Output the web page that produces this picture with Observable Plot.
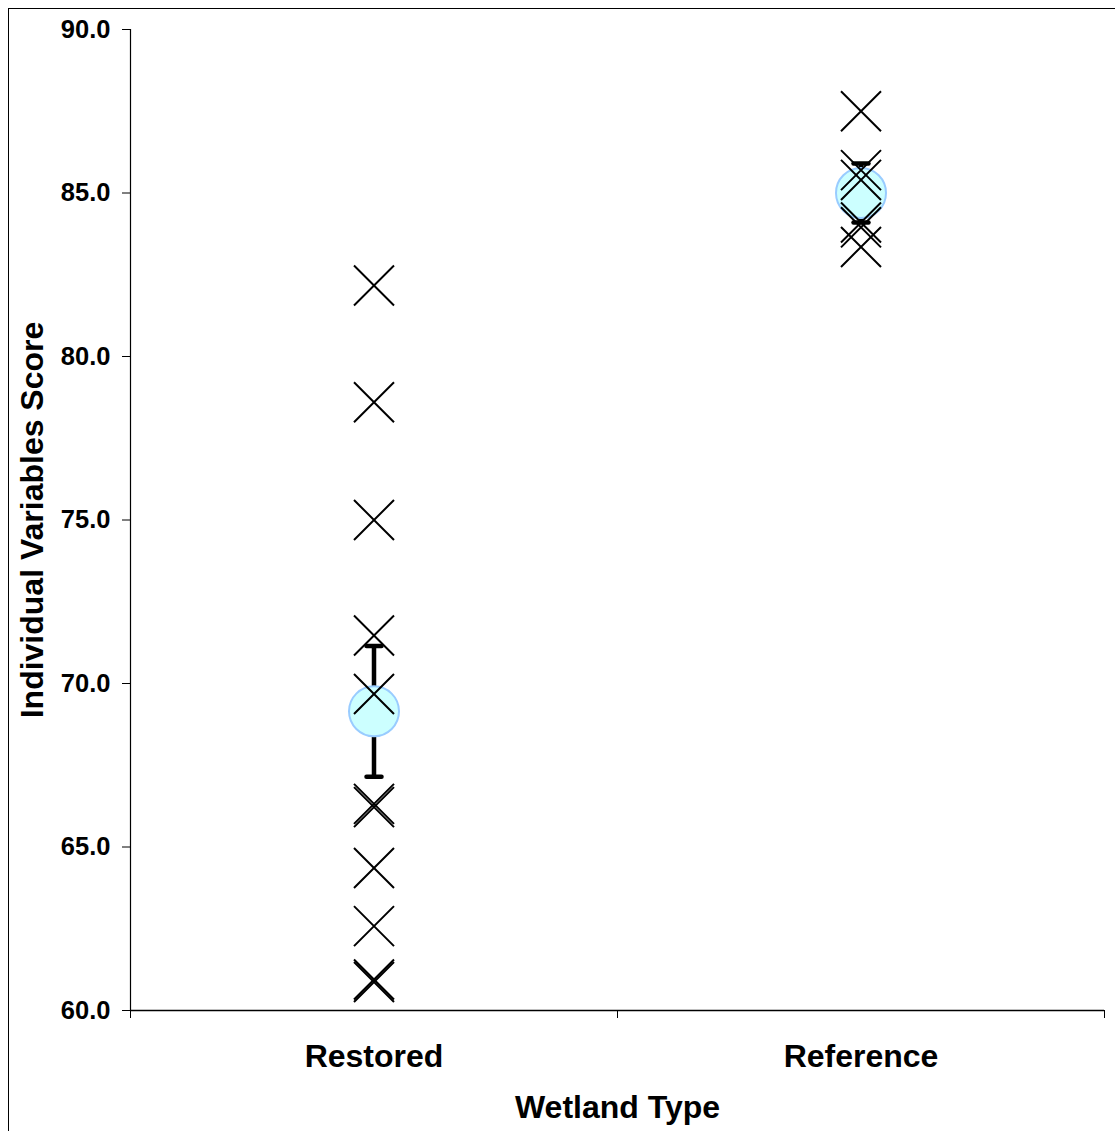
<!DOCTYPE html>
<html><head><meta charset="utf-8">
<script src="https://cdn.jsdelivr.net/npm/d3@7"></script>
<script src="https://cdn.jsdelivr.net/npm/@observablehq/plot@0.6"></script>
<style>
html,body{margin:0;padding:0;background:#fff;}
#wrap{position:relative;width:1115px;height:1131px;overflow:hidden;}
#border{position:absolute;left:8px;top:8px;width:1200px;height:1200px;border:1px solid #000;box-sizing:border-box;pointer-events:none;}
</style></head><body><div id="wrap"><div id="border"></div></div>
<script>
const categories = ["Restored", "Reference"];
const restoredScores = [82.17, 78.6, 75.0, 71.47, 69.68, 66.32, 66.22, 64.36, 62.58, 60.95, 60.87];
const referenceScores = [87.5, 85.7, 85.4, 84.1, 83.95, 83.35];
const means = [69.15, 85.0];
const errors = [2.0, 0.9];
const yTicks = [60, 65, 70, 75, 80, 85, 90];
const xTitle = "Wetland Type";
const yTitle = "Individual Variables Score";

const points = [
  ...restoredScores.map(v => ({x: 0.5, y: v})),
  ...referenceScores.map(v => ({x: 1.5, y: v}))
];
const summary = categories.map((c, i) => ({x: i + 0.5, mean: means[i], lo: means[i] - errors[i], hi: means[i] + errors[i]}));

const capSymbol = {draw(ctx, size) { const w = Math.sqrt(size / Math.PI); ctx.moveTo(-w, 0); ctx.lineTo(w, 0); }};
const font = "'Liberation Sans', Arial, Helvetica, sans-serif";

const chart = Plot.plot({
  width: 1115, height: 1131,
  marginLeft: 130, marginRight: 11, marginTop: 29, marginBottom: 121,
  style: {fontFamily: font, fontWeight: "bold", background: "transparent", color: "#000", overflow: "visible"},
  x: {domain: [0, 2]},
  y: {domain: [60, 90]},
  marks: [
    Plot.axisY({ticks: yTicks, tickFormat: d => d.toFixed(1), tickSize: 8, tickPadding: 12, fontSize: 25.5, label: null}),
    Plot.axisX({ticks: [0, 1, 2], tickFormat: () => "", tickSize: 8, label: null}),
    Plot.axisX({ticks: [0.5, 1.5], tickFormat: d => categories[Math.floor(d)], tickSize: 0, tickPadding: 34, fontSize: 32, label: null}),
    Plot.text([yTitle], {frameAnchor: "left", rotate: -90, dx: -88, lineAnchor: "bottom", textAnchor: "middle", fontSize: 32, fontWeight: "bold"}),
    Plot.text([xTitle], {frameAnchor: "bottom", dy: 107, lineAnchor: "bottom", textAnchor: "middle", fontSize: 32, fontWeight: "bold"}),
    Plot.ruleX([0], {stroke: "#000", strokeWidth: 1.2}),
    Plot.ruleY([60], {stroke: "#000", strokeWidth: 1.6}),
    Plot.ruleX(summary, {x: "x", y1: "lo", y2: "hi", stroke: "#000", strokeWidth: 4.5}),
    Plot.dot(summary, {x: "x", y: "hi", symbol: capSymbol, r: 7.5, fill: "none", stroke: "#000", strokeWidth: 4.5, strokeLinecap: "round"}),
    Plot.dot(summary, {x: "x", y: "lo", symbol: capSymbol, r: 7.5, fill: "none", stroke: "#000", strokeWidth: 4.5, strokeLinecap: "round"}),
    Plot.dot(summary, {x: "x", y: "mean", r: 25, fill: "#ccffff", stroke: "#99ccff", strokeWidth: 2, fillOpacity: 1}),
    Plot.dot(points, {x: "x", y: "y", symbol: "times", r: 18.25, fill: "none", stroke: "#000", strokeWidth: 2})
  ]
});
document.getElementById("wrap").prepend(chart);
</script>
</body></html>
